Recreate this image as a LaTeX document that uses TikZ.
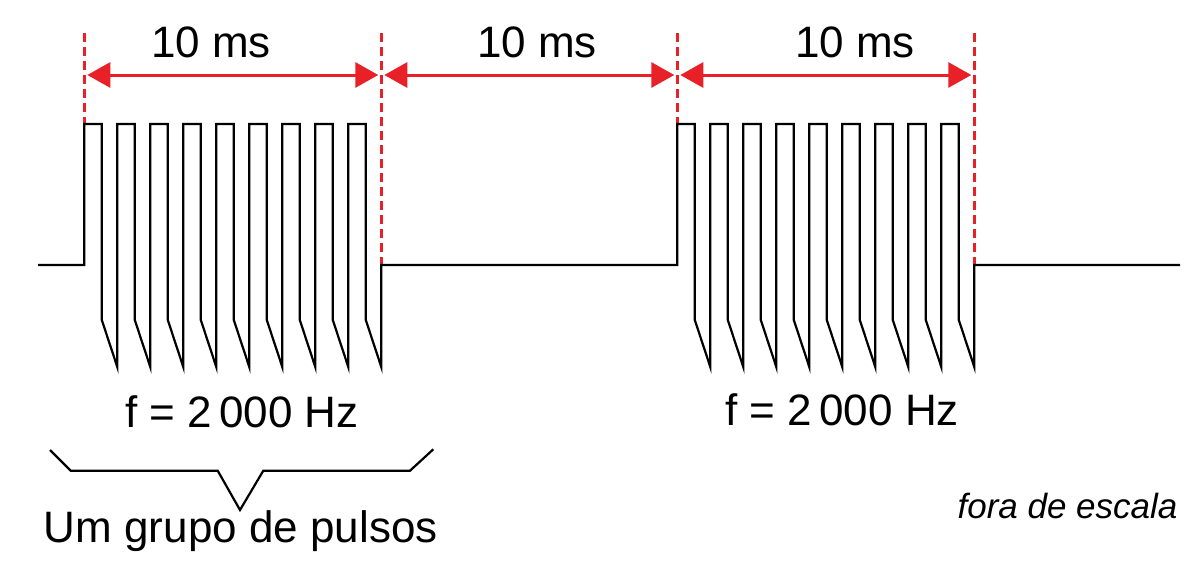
\documentclass[tikz,border=0pt]{standalone}
\usepackage{fontspec}
\setmainfont{Liberation Sans}
\usetikzlibrary{arrows.meta}
\definecolor{dimred}{RGB}{232,32,40}

\tikzset{
	signal/.style={line width=2.2pt, line join=miter},
	guide/.style={dimred, line width=2.6pt, dash pattern=on 9pt off 5pt},
	span/.style={dimred, line width=3pt, {Triangle[length=23pt,width=25pt]}-{Triangle[length=23pt,width=25pt]}, shorten <=3pt, shorten >=3pt},
	lbl/.style={anchor=base, inner sep=0pt, font=\fontsize{44}{50}\selectfont}
}

\begin{document}
\begin{tikzpicture}[x=1pt, y=-1pt]

				\useasboundingbox (0, 0) rectangle (1193, 570);

				\coordinate(m1) at (84.3, 75);
				\coordinate(m2) at (381.3, 75);
				\coordinate(m3) at (677.3, 75);
				\coordinate(m4) at (974.3, 75);

				% marcas tracejadas
				\foreach \x/\y in {84.3/124, 381.3/265, 677.3/124, 974.3/265}
					\draw[guide] (\x, 33)--(\x, \y);

				\draw[span] (m1)--(m2);
				\draw[span] (m2)--(m3);
				\draw[span] (m3)--(m4);
				\node[lbl] (ms1) at (211, 57) {10 ms};
				\node[lbl] (ms2) at (537, 57) {10 ms};
				\node[lbl] (ms3) at (855, 57) {10 ms};

				% sinal
				\draw[signal] (38, 265)--(84.3, 265)
					\foreach \k in {0,...,8}{ --({84.3+33*\k}, 124)--({101.8+33*\k}, 124)--({101.8+33*\k}, 320)--({117.3+33*\k}, 367) }
					--(381.3, 265)--(677.3, 265)
					\foreach \k in {0,...,8}{ --({677.3+33*\k}, 124)--({694.8+33*\k}, 124)--({694.8+33*\k}, 320)--({710.3+33*\k}, 367) }
					--(974.3, 265)--(1180, 265);

				\node[lbl] (f1) at (242, 427) {f = 2\,000 Hz};
				\node[lbl] (f2) at (842, 425) {f = 2\,000 Hz};

				\draw[signal] (50, 450)--(70.7, 470.7)--(217.7, 470.7)--(240, 510)--(263.3, 470.7)--(410, 470.7)--(433.3, 449.3);
				\node[lbl] (grupo) at (240.7, 542) {Um grupo de pulsos};
				\node[lbl, font=\fontsize{35}{40}\selectfont\itshape] (escala) at (1067.5, 518) {fora de escala};
			\end{tikzpicture}
\end{document}
